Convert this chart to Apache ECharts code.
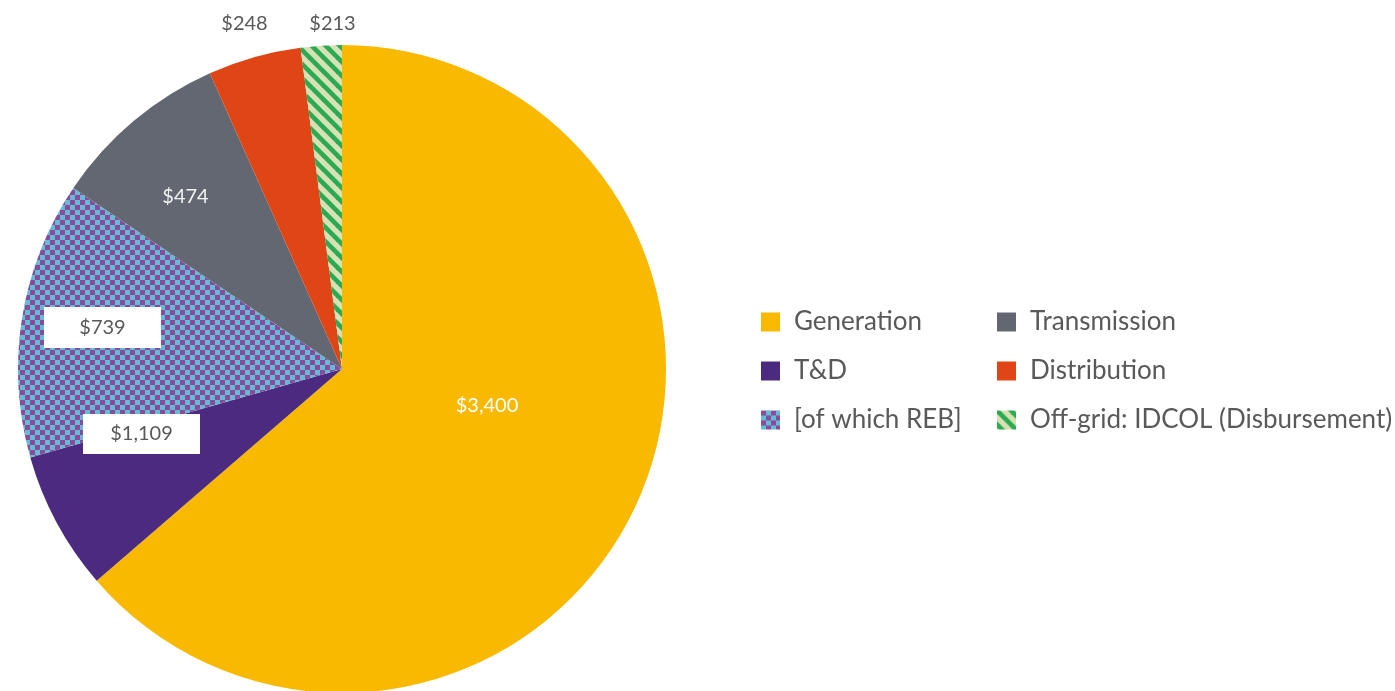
<!DOCTYPE html>
<html>
<head>
<meta charset="utf-8">
<script src="https://cdn.jsdelivr.net/npm/echarts@6/dist/echarts.min.js"></script>
<style>
html,body{margin:0;padding:0;background:#fff;}
#chart{width:1395px;height:691px;}
</style>
</head>
<body>
<div id="chart"></div>
<script>
// ---- data ----
const categories = ['Generation', 'T&D', '[of which REB]', 'Transmission', 'Distribution', 'Off-grid: IDCOL (Disbursement)'];
// slice sizes as drawn in the picture
const sliceValues = [3400, 370, 739, 474, 248, 109];
// value labels shown on the chart
const valueLabels = ['$3,400', '$1,109', '$739', '$474', '$248', '$213'];

// ---- styles ----
const labelPos = [[487, 406], [141.5, 434], [102.5, 327.5], [185.5, 197], [244.5, 24], [332.5, 24]];

function checker() {
  const c = document.createElement('canvas');
  c.width = 10; c.height = 10;
  const g = c.getContext('2d');
  g.fillStyle = '#62BCD6'; g.fillRect(0, 0, 10, 10);
  g.fillStyle = '#8B4A9B';
  g.fillRect(0, 0, 5, 5); g.fillRect(5, 5, 5, 5);
  return c;
}
function stripes() {
  const s = 14;
  const c = document.createElement('canvas');
  c.width = s; c.height = s;
  const g = c.getContext('2d');
  g.fillStyle = '#D6E2B4'; g.fillRect(0, 0, s, s);
  g.strokeStyle = '#2BAA52'; g.lineWidth = 4.6;
  for (let k = -1; k <= 1; k++) {
    g.beginPath();
    g.moveTo(-2, k * s - 2);
    g.lineTo(s + 2, s + k * s + 2);
    g.stroke();
  }
  return c;
}

const colors = [
  '#F9B900',
  '#4B2A7F',
  { image: checker(), repeat: 'repeat' },
  '#626771',
  '#E04515',
  { image: stripes(), repeat: 'repeat' }
];
const labelStyles = [
  { color: '#ffffff' },
  { color: '#595959', backgroundColor: '#ffffff', width: 117, height: 40, align: 'center', verticalAlign: 'middle' },
  { color: '#595959', backgroundColor: '#ffffff', width: 117, height: 41, align: 'center', verticalAlign: 'middle' },
  { color: '#f2f2f2' },
  { color: '#595959' },
  { color: '#595959' }
];

const data = categories.map((name, i) => ({
  name: name,
  value: sliceValues[i],
  itemStyle: { color: colors[i] },
  label: Object.assign({ formatter: valueLabels[i] }, labelStyles[i])
}));

const chart = echarts.init(document.getElementById('chart'), null, { renderer: 'canvas' });
const legendCommon = {
  orient: 'vertical',
  icon: 'rect',
  padding: 0,
  itemWidth: 19,
  itemHeight: 19,
  itemGap: 23,
  selectedMode: false,
  textStyle: { fontFamily: 'Lato', fontSize: 26, color: '#595959', lineHeight: 24, padding: [0, 0, 0, 9] }
};
chart.setOption({
  animation: false,
  backgroundColor: '#ffffff',
  legend: [
    Object.assign({ left: 761, top: 309, data: [categories[0], categories[1], categories[2]] }, legendCommon),
    Object.assign({ left: 997, top: 309, data: [categories[3], categories[4], categories[5]] }, legendCommon)
  ],
  series: [{
    type: 'pie',
    center: [342, 369],
    radius: 324,
    startAngle: 90,
    clockwise: true,
    avoidLabelOverlap: false,
    itemStyle: { borderWidth: 0 },
    label: {
      show: true,
      position: 'inside',
      fontFamily: 'Lato',
      fontSize: 20
    },
    labelLine: { show: false },
    labelLayout: function (p) {
      const pos = labelPos[p.dataIndex];
      return { x: pos[0], y: pos[1], align: 'center', verticalAlign: 'middle' };
    },
    emphasis: { disabled: true },
    data: data
  }]
});
</script>
</body>
</html>
